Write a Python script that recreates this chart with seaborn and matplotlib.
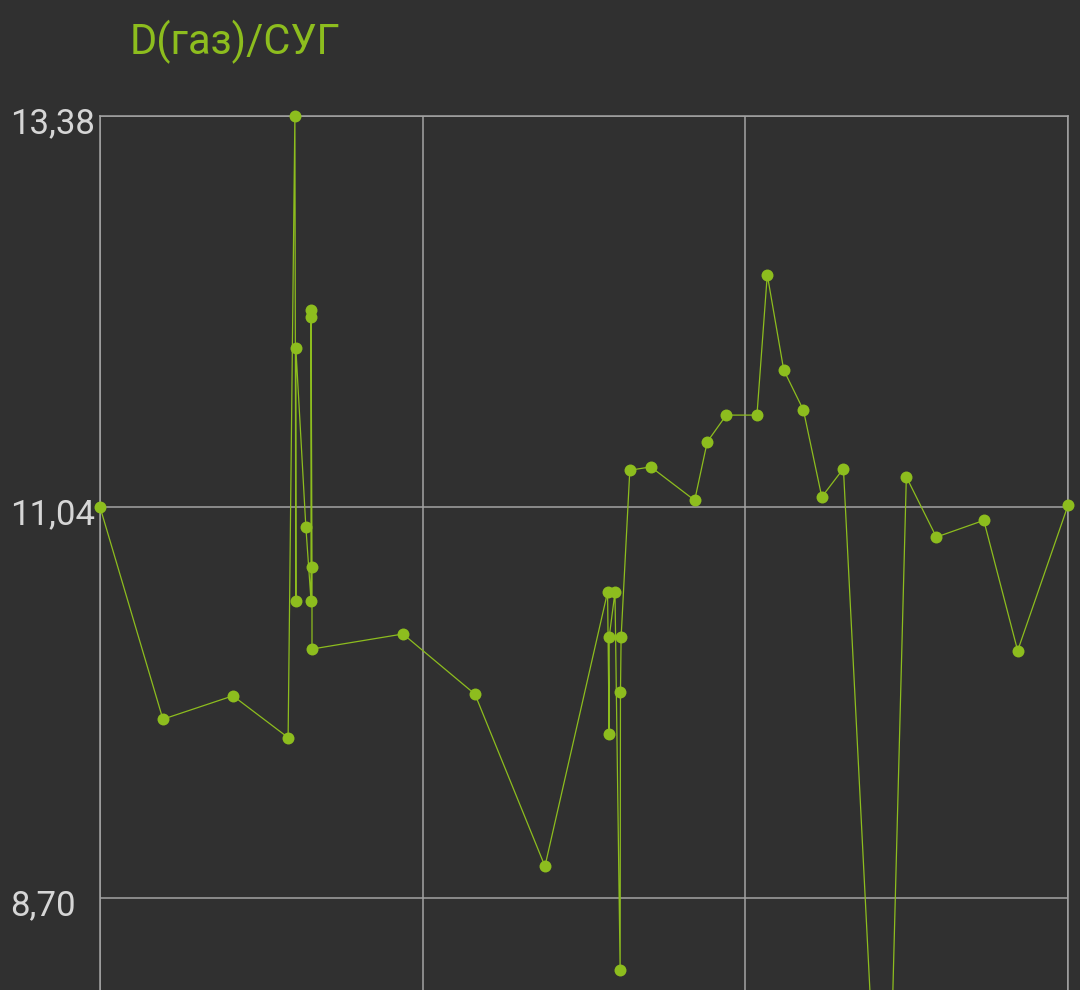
import numpy as np
import pandas as pd
import matplotlib
matplotlib.use("Agg")
import matplotlib.pyplot as plt
import matplotlib.transforms as mtransforms
import seaborn as sns

# время (условные единицы, 0..30) и значения D(газ)/СУГ
t_values = [0.00, 1.95, 4.12, 5.83, 6.04, 6.07, 6.07, 6.38, 6.54, 6.54,
            6.54, 6.57, 6.57, 9.39, 11.62, 13.79, 15.73, 15.78, 15.78, 15.96,
            16.12, 16.13, 16.15, 16.42, 17.07, 18.43, 18.82, 19.41, 20.36, 20.68,
            21.19, 21.80, 22.37, 23.04, 24.33, 24.99, 25.92, 27.39, 28.44, 30.00]
d_values = [11.04, 9.77, 9.91, 9.66, 13.38, 10.48, 11.99, 10.92, 10.48, 12.22,
            12.18, 10.68, 10.19, 10.28, 9.92, 8.89, 10.53, 9.68, 10.26, 10.53,
            8.27, 9.93, 10.26, 11.26, 11.28, 11.08, 11.43, 11.59, 11.59, 12.43,
            11.86, 11.62, 11.10, 11.27, 6.36, 11.22, 10.86, 10.96, 10.18, 11.05]
y_ticks = [6.36, 8.70, 11.04, 13.38]
x_ticks = [0, 10, 20, 30]
title = "D(газ)/СУГ"

BG = "#303030"
GREEN = "#8dbd1e"
GRID = "#a3a3a3"
LABEL = "#d6d6d6"


def plot_chart(output="out.png"):
    df = pd.DataFrame({"t": t_values, "d": d_values})

    sns.set_theme(style="dark")
    plt.rcParams["font.family"] = ["Roboto", "DejaVu Sans"]

    fig = plt.figure(figsize=(10.8, 9.9), dpi=100, facecolor=BG)
    # ось уходит ниже края картинки, как на скриншоте
    ax = fig.add_axes([100 / 1080, 1 - 1289 / 990, 968 / 1080, 1173 / 990])
    ax.set_facecolor(BG)

    sns.lineplot(data=df, x="t", y="d", sort=False, estimator=None,
                 color=GREEN, lw=0.9, marker="o", markersize=8.6,
                 markeredgewidth=0, ax=ax, clip_on=False, zorder=3)

    ax.set_xlim(x_ticks[0], x_ticks[-1])
    ax.set_ylim(y_ticks[0], y_ticks[-1])
    ax.set_xticks(x_ticks)
    ax.set_yticks(y_ticks)
    # нижняя подпись за краем кадра не видна
    ax.set_yticklabels([""] + [f"{v:.2f}".replace(".", ",") for v in y_ticks[1:]])
    ax.set_xticklabels([])
    ax.grid(True, color=GRID, lw=1.1)
    for s in ax.spines.values():
        s.set_color(GRID)
        s.set_linewidth(1.1)
    ax.spines["bottom"].set_visible(False)
    ax.tick_params(axis="both", length=0, labelcolor=LABEL)
    ax.tick_params(axis="y", pad=64.8, labelsize=25)
    shift = mtransforms.ScaledTranslation(0, -0.04, fig.dpi_scale_trans)
    for lbl in ax.get_yticklabels():
        lbl.set_horizontalalignment("left")
        lbl.set_transform(lbl.get_transform() + shift)
    ax.set_xlabel("")
    ax.set_ylabel("")

    fig.text(130 / 1080, 1 - 54 / 990, title, color=GREEN, fontsize=30,
             ha="left", va="baseline")

    fig.savefig(output, dpi=100, facecolor=BG)
    plt.close(fig)
    return output


def main():
    plot_chart("out.png")
    return 0


if __name__ == "__main__":
    raise SystemExit(main())
